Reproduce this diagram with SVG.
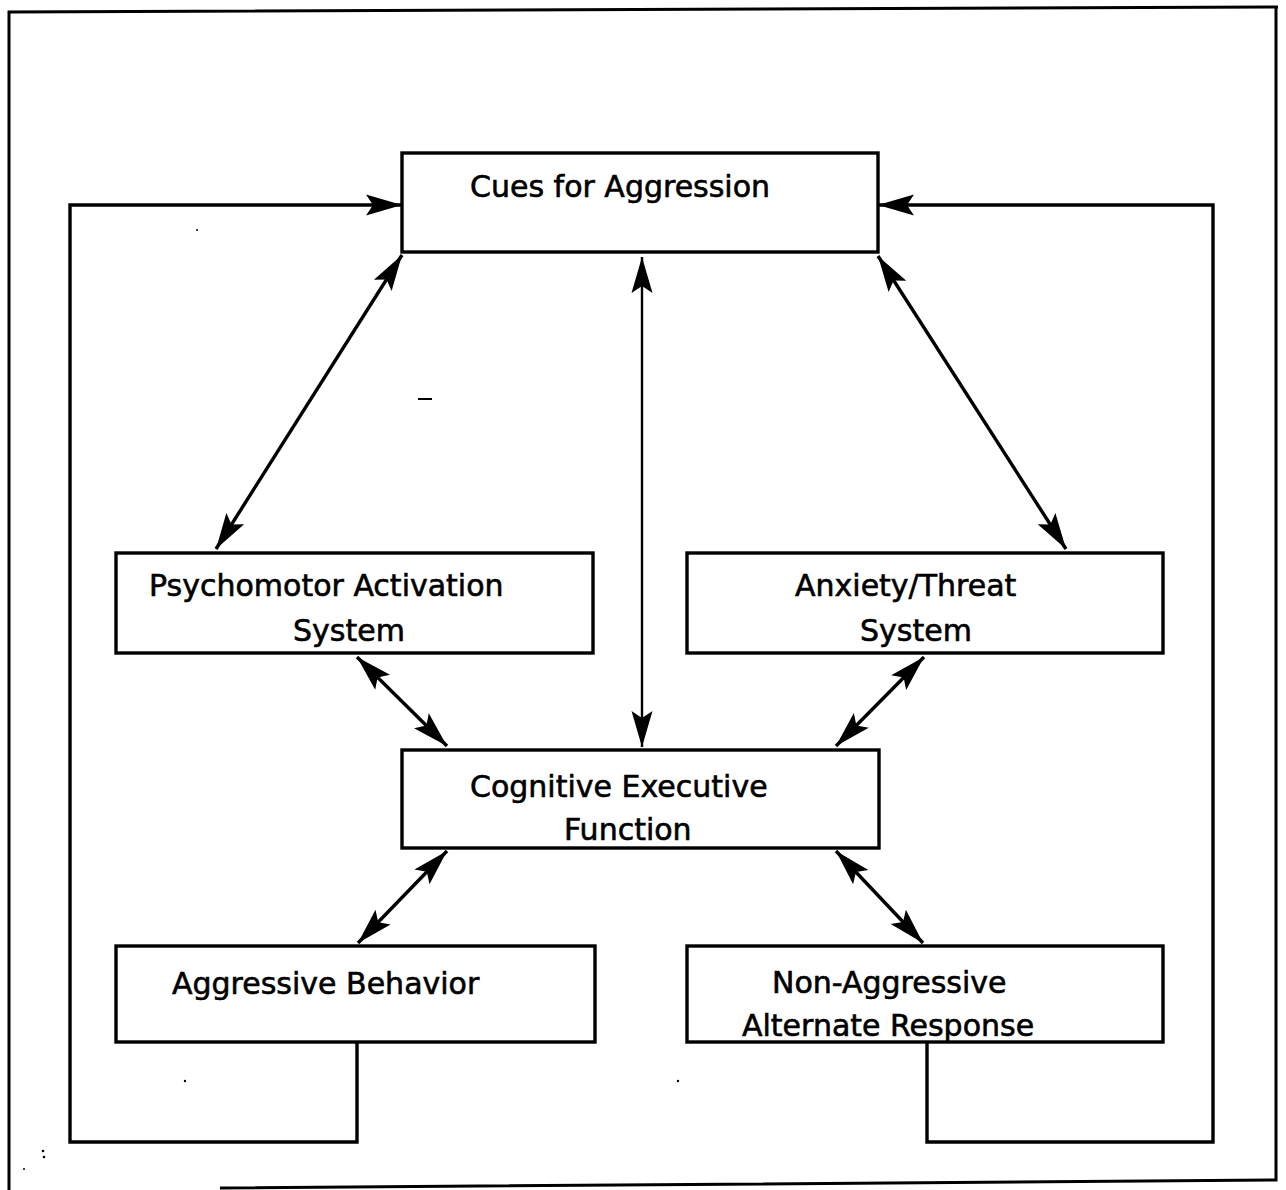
<svg xmlns="http://www.w3.org/2000/svg" width="1286" height="1190" viewBox="0 0 1286 1190">
  <style>
    .box { fill: #fff; stroke: #000; stroke-width: 3.4; }
    .lbl { font-family: "DejaVu Sans", "Liberation Sans", sans-serif; font-size: 30px; fill: #000; stroke: #000; stroke-width: 0.6; }
    .wire { fill: none; stroke: #000; stroke-width: 3.4; }
    .thin { fill: none; stroke: #000; stroke-width: 2.4; }
    .both { marker-start: url(#head); marker-end: url(#head); }
    .one { marker-end: url(#head); }
  </style>
  <defs>
    <marker id="head" viewBox="-38 -12 40 24" refX="0" refY="0" markerWidth="40" markerHeight="24" markerUnits="userSpaceOnUse" orient="auto-start-reverse">
      <path d="M0,0 L-36,-10.5 L-29,0 L-36,10.5 Z" fill="#000"/>
    </marker>
  </defs>

  <rect width="1286" height="1190" fill="#fff"/>

  <!-- outer frame -->
  <g id="frame" fill="none" stroke="#000" stroke-width="3">
    <path d="M9,1190 L9,12 L1278,7"/>
    <path d="M1276,7 L1276,1180 L220,1188"/>
  </g>

  <!-- connectors -->
  <g id="connectors">
    <!-- feedback loops into the cue box -->
    <path class="wire one" d="M357,1043 L357,1142 L70,1142 L70,205 L402,205"/>
    <path class="wire one" d="M927,1043 L927,1142 L1213,1142 L1213,205 L878,205"/>
    <!-- cue box links -->
    <line class="wire both" x1="402" y1="255" x2="216" y2="549"/>
    <line class="wire both" x1="878" y1="256" x2="1066" y2="549"/>
    <line class="thin both" x1="642" y1="257" x2="642" y2="747"/>
    <!-- systems to executive function -->
    <line class="wire both" x1="357" y1="657" x2="447" y2="746"/>
    <line class="wire both" x1="924" y1="657" x2="836" y2="746"/>
    <!-- executive function to responses -->
    <line class="wire both" x1="447" y1="851" x2="358" y2="943"/>
    <line class="wire both" x1="836" y1="851" x2="923" y2="943"/>
  </g>

  <g id="cues">
    <rect class="box" x="402" y="153" width="476" height="99"/>
    <text class="lbl" x="470" y="197">Cues for Aggression</text>
  </g>

  <g id="psychomotor">
    <rect class="box" x="116" y="553" width="477" height="100"/>
    <text class="lbl" x="149" y="596">Psychomotor Activation</text>
    <text class="lbl" x="293" y="641">System</text>
  </g>

  <g id="anxiety">
    <rect class="box" x="687" y="553" width="476" height="100"/>
    <text class="lbl" x="795" y="596">Anxiety/Threat</text>
    <text class="lbl" x="860" y="641">System</text>
  </g>

  <g id="cognitive">
    <rect class="box" x="402" y="750" width="477" height="98"/>
    <text class="lbl" x="470" y="797">Cognitive Executive</text>
    <text class="lbl" x="564" y="840">Function</text>
  </g>

  <g id="aggressive">
    <rect class="box" x="116" y="946" width="479" height="96"/>
    <text class="lbl" x="172" y="994">Aggressive Behavior</text>
  </g>

  <g id="nonaggressive">
    <rect class="box" x="687" y="946" width="476" height="96"/>
    <text class="lbl" x="772" y="993">Non-Aggressive</text>
    <text class="lbl" x="742" y="1036">Alternate Response</text>
  </g>

  <!-- stray print marks -->
  <g id="marks" fill="#000">
    <rect x="418" y="398" width="14" height="2"/>
    <circle cx="197" cy="230" r="1"/>
    <circle cx="185" cy="1081" r="1.2"/>
    <circle cx="678" cy="1081" r="1.2"/>
    <circle cx="43" cy="1151" r="1.3"/>
    <circle cx="44" cy="1157" r="1.3"/>
    <circle cx="24" cy="1169" r="1"/>
  </g>
</svg>
